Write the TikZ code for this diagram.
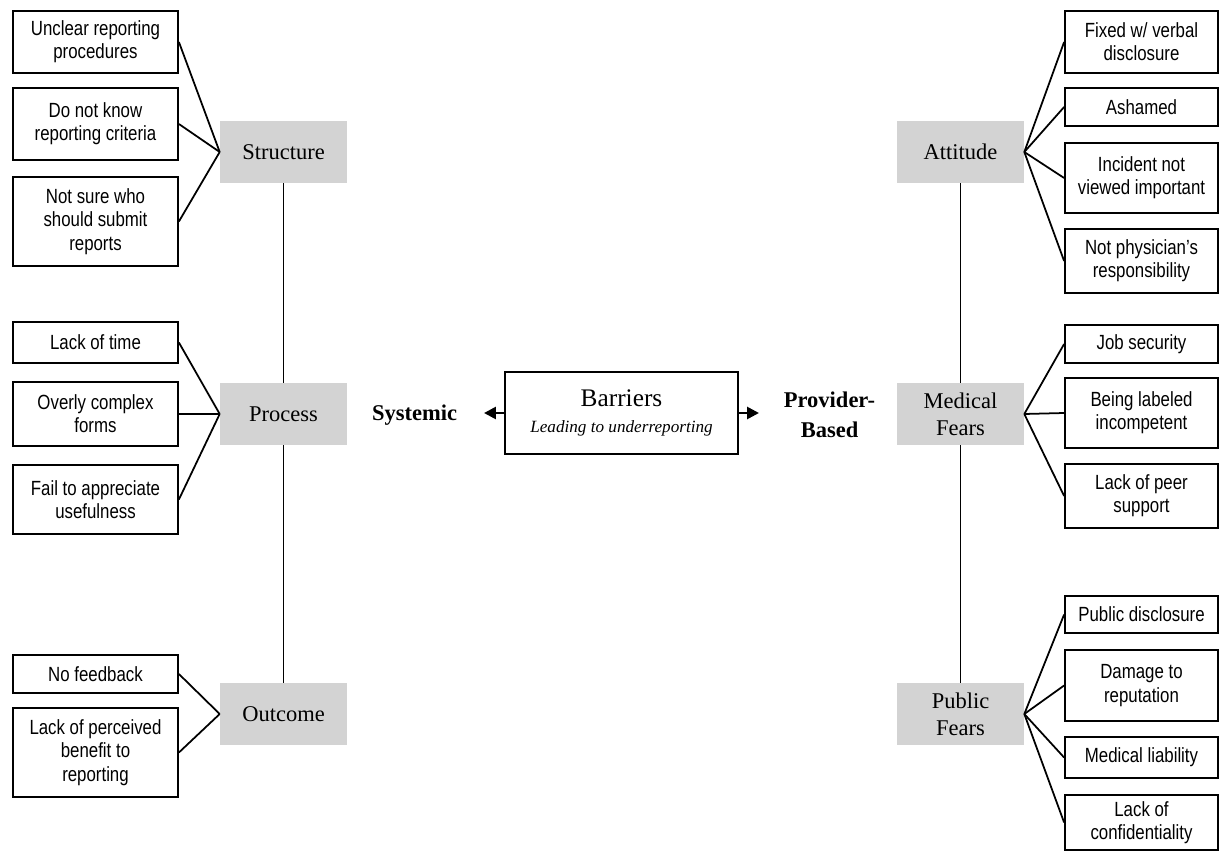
\documentclass[tikz,border=0pt]{standalone}
\usepackage{fontspec}
\setmainfont{Liberation Serif}
\newfontfamily\leafsans[FakeStretch=0.82]{Liberation Sans}
\usetikzlibrary{arrows.meta}
\definecolor{catgray}{RGB}{211,211,211}

\tikzset{
  cat/.style={fill=catgray,minimum width=3.175cm,minimum height=1.55cm,
    align=center,inner sep=0pt,font=\fontsize{16}{19}\selectfont},
  leaf/.style={draw,line width=1.25pt,align=center,inner sep=0pt,
    font=\leafsans\fontsize{14.6}{16.5}\selectfont},
  lleaf/.style={leaf,minimum width=4.125cm},
  rleaf/.style={leaf,minimum width=3.825cm},
  link/.style={line width=1.25pt},
  side/.style={-{Triangle[length=8.5pt,width=8.5pt]},line width=1.9pt}
}

\begin{document}
\begin{tikzpicture}[x=0.025cm,y=-0.025cm]
  \useasboundingbox (0,0) rectangle (1220,852);
  % centre
  \node[draw,line width=1.25pt,minimum width=5.825cm,minimum height=2.05cm,
    align=center,inner sep=0pt] (barriers) at (621.5,413)
    {\fontsize{18}{20}\selectfont Barriers\\[7pt]
     {\itshape\fontsize{12.2}{14}\selectfont Leading to underreporting}};
  \node[font=\bfseries\fontsize{16}{19}\selectfont] (sys) at (414.5,415) {Systemic};
  \node[font=\bfseries\fontsize{16}{21}\selectfont,align=center] (prov) at (829.5,415)
    {Provider-\\Based};
  \coordinate (systip) at (484,413);
  \coordinate (provtip) at (759,413);
  \draw[side] (barriers.west) -- (systip);
  \draw[side] (barriers.east) -- (provtip);

  % systemic side
  \node[cat] (struct) at (283.5,152) {Structure};
  \node[cat] (proc) at (283.5,414) {Process};
  \node[cat] (outc) at (283.5,714) {Outcome};
  \node[lleaf,minimum height=1.55cm] (s1) at (95.5,42) {Unclear reporting\\procedures};
  \node[lleaf,minimum height=1.8cm] (s2) at (95.5,124) {Do not know\\reporting criteria};
  \node[lleaf,minimum height=2.225cm] (s3) at (95.5,221.5) {Not sure who\\should submit\\reports};
  \node[lleaf,minimum height=1.025cm] (p1) at (95.5,342.5) {Lack of time};
  \node[lleaf,minimum height=1.6cm] (p2) at (95.5,414) {Overly complex\\forms};
  \node[lleaf,minimum height=1.725cm] (p3) at (95.5,499.5) {Fail to appreciate\\usefulness};
  \node[lleaf,minimum height=0.95cm] (o1) at (95.5,674) {No feedback};
  \node[lleaf,minimum height=2.225cm] (o2) at (95.5,752.5) {Lack of perceived\\benefit to\\reporting};
  \foreach \l in {s1,s2,s3} \draw[link] (\l.east) -- (struct.west);
  \foreach \l in {p1,p2,p3} \draw[link] (\l.east) -- (proc.west);
  \foreach \l in {o1,o2} \draw[link] (\l.east) -- (outc.west);
  \draw[link] (struct.south) -- (proc.north);
  \draw[link] (proc.south) -- (outc.north);

  % provider-based side
  \node[cat] (att) at (960.5,152) {Attitude};
  \node[cat] (medf) at (960.5,414) {Medical\\Fears};
  \node[cat] (pubf) at (960.5,714) {Public\\Fears};
  \node[rleaf,minimum height=1.55cm] (a1) at (1141.5,42) {Fixed w/ verbal\\disclosure};
  \node[rleaf,minimum height=0.95cm] (a2) at (1141.5,107) {Ashamed};
  \node[rleaf,minimum height=1.75cm] (a3) at (1141.5,178) {Incident not\\viewed important};
  \node[rleaf,minimum height=1.6cm] (a4) at (1141.5,261) {Not physician’s\\responsibility};
  \node[rleaf,minimum height=0.95cm] (m1) at (1141.5,344) {Job security};
  \node[rleaf,minimum height=1.75cm] (m2) at (1141.5,413) {Being labeled\\incompetent};
  \node[rleaf,minimum height=1.6cm] (m3) at (1141.5,496) {Lack of peer\\support};
  \node[rleaf,minimum height=0.925cm] (f1) at (1141.5,614.5) {Public disclosure};
  \node[rleaf,minimum height=1.775cm] (f2) at (1141.5,685.5) {Damage to\\reputation};
  \node[rleaf,minimum height=1.025cm] (f3) at (1141.5,757.5) {Medical liability};
  \node[rleaf,minimum height=1.375cm] (f4) at (1141.5,822.5) {Lack of\\confidentiality};
  \foreach \r in {a1,a2,a3,a4} \draw[link] (att.east) -- (\r.west);
  \foreach \r in {m1,m2,m3} \draw[link] (medf.east) -- (\r.west);
  \foreach \r in {f1,f2,f3,f4} \draw[link] (pubf.east) -- (\r.west);
  \draw[link] (att.south) -- (medf.north);
  \draw[link] (medf.south) -- (pubf.north);
\end{tikzpicture}
\end{document}
